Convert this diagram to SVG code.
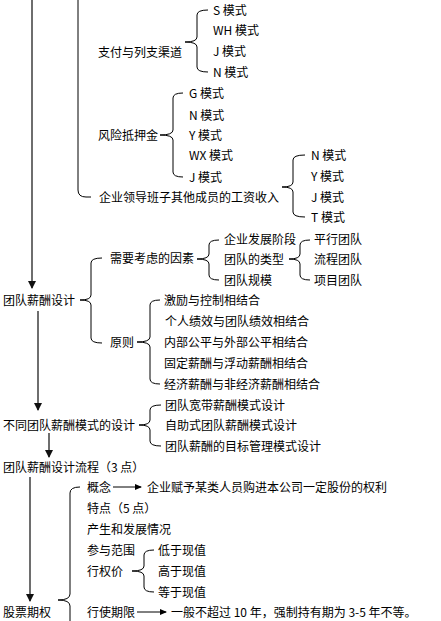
<svg xmlns="http://www.w3.org/2000/svg" width="441" height="621" viewBox="0 0 441 621">
<defs>
<marker id="ah" markerWidth="8" markerHeight="8" refX="7" refY="4" orient="auto" markerUnits="userSpaceOnUse"><path d="M0,0 L8,4 L0,8 Z" fill="#111"/></marker>
<marker id="ahs" markerWidth="7" markerHeight="6" refX="6" refY="3" orient="auto" markerUnits="userSpaceOnUse"><path d="M0,0 L7,3 L0,6 Z" fill="#000"/></marker>
</defs>
<style>
text{font-family:"Noto Sans CJK SC","Noto Sans",sans-serif;font-size:12px;fill:#000}
.b{fill:none;stroke:#000;stroke-width:1}
.g{fill:none;stroke:#6e6e6e;stroke-width:2}
.a{fill:none;stroke:#000;stroke-width:1}
</style>
<rect width="441" height="621" fill="#fff"/>
<g id="connectors">
<path class="g" d="M32,0 L32,288" marker-end="url(#ah)"/>
<path class="g" d="M38,311 L38,410" marker-end="url(#ah)"/>
<path class="g" d="M49,433 L49,457" marker-end="url(#ah)"/>
<path class="g" d="M30,477 L30,601" marker-end="url(#ah)"/>
<path class="b" d="M78,0 L78,190 Q78,197 86,197 L91,197"/>
<path class="b" d="M208,10 Q197,10 197,15 L197,37 Q197,42 185,42 Q197,42 197,47 L197,67 Q197,72 208,72"/>
<path class="b" d="M183,93 Q173,93 173,98 L173,130 Q173,135 160,135 Q173,135 173,140 L173,172 Q173,177 183,177"/>
<path class="b" d="M305,155 Q293,155 293,160 L293,182 Q293,187 282,187 Q293,187 293,192 L293,212 Q293,217 305,217"/>
<path class="b" d="M102,258 Q91,258 91,263 L91,295 Q91,300 80,300 Q91,300 91,305 L91,338 Q91,343 102,343"/>
<path class="b" d="M219,240 Q209,240 209,245 L209,254 Q209,259 197,259 Q209,259 209,264 L209,275 Q209,280 219,280"/>
<path class="b" d="M310,240 Q300,240 300,245 L300,254 Q300,259 289,259 Q300,259 300,264 L300,275 Q300,280 310,280"/>
<path class="b" d="M160,300 Q150,300 150,305 L150,337 Q150,342 137,342 Q150,342 150,347 L150,379 Q150,384 160,384"/>
<path class="b" d="M161,405 Q150,405 150,410 L150,420 Q150,425 139,425 Q150,425 150,430 L150,441 Q150,446 161,446"/>
<path class="b" d="M80,487 Q70,487 70,493 L70,594 Q70,600 58,600 Q70,600 70,606 L70,621"/>
<path class="b" d="M154,550 Q144,550 144,555 L144,566 Q144,571 132,571 Q144,571 144,576 L144,587 Q144,592 154,592"/>
<path class="a" d="M113,487 L141,487" marker-end="url(#ahs)"/>
<path class="a" d="M137,612 L166,612" marker-end="url(#ahs)"/>
</g>
<g id="n-zhifu"><text x="98" y="56.5">支付与列支渠道</text></g>
<g id="n-zhifu-items">
<text x="213" y="14.5">S 模式</text>
<text x="213" y="34.5">WH 模式</text>
<text x="213" y="55.5">J 模式</text>
<text x="213" y="76.5">N 模式</text>
</g>
<g id="n-fengxian"><text x="98" y="139.5">风险抵押金</text></g>
<g id="n-fengxian-items">
<text x="189" y="97.5">G 模式</text>
<text x="189" y="119.5">N 模式</text>
<text x="189" y="139.5">Y 模式</text>
<text x="189" y="159.5">WX 模式</text>
<text x="189" y="181.5">J 模式</text>
</g>
<g id="n-qiye"><text x="99" y="201.5">企业领导班子其他成员的工资收入</text></g>
<g id="n-qiye-items">
<text x="311" y="159.5">N 模式</text>
<text x="311" y="180.5">Y 模式</text>
<text x="311" y="201.5">J 模式</text>
<text x="311" y="221.5">T 模式</text>
</g>
<g id="n-tuandui"><text x="3" y="304.5">团队薪酬设计</text></g>
<g id="n-yinsu"><text x="110" y="262.5">需要考虑的因素</text></g>
<g id="n-yinsu-items">
<text x="224" y="243.5">企业发展阶段</text>
<text x="224" y="263.5">团队的类型</text>
<text x="224" y="284.5">团队规模</text>
</g>
<g id="n-leixing-items">
<text x="314" y="243.5">平行团队</text>
<text x="314" y="263.5">流程团队</text>
<text x="314" y="284.5">项目团队</text>
</g>
<g id="n-yuanze"><text x="110" y="346.5">原则</text></g>
<g id="n-yuanze-items">
<text x="164" y="304.5">激励与控制相结合</text>
<text x="165" y="325.5">个人绩效与团队绩效相结合</text>
<text x="164" y="346.5">内部公平与外部公平相结合</text>
<text x="164" y="367.5">固定薪酬与浮动薪酬相结合</text>
<text x="164" y="388.5">经济薪酬与非经济薪酬相结合</text>
</g>
<g id="n-butong"><text x="3" y="429.5">不同团队薪酬模式的设计</text></g>
<g id="n-butong-items">
<text x="165" y="409.5">团队宽带薪酬模式设计</text>
<text x="165" y="429.5">自助式团队薪酬模式设计</text>
<text x="165" y="450.5">团队薪酬的目标管理模式设计</text>
</g>
<g id="n-liucheng"><text x="3" y="471.5">团队薪酬设计流程（3 点）</text></g>
<g id="n-gupiao"><text x="3" y="616.5">股票期权</text></g>
<g id="n-gupiao-items">
<text x="87" y="491.5">概念</text>
<text x="147" y="491.5">企业赋予某类人员购进本公司一定股份的权利</text>
<text x="87" y="512.5">特点（5 点）</text>
<text x="87" y="533.5">产生和发展情况</text>
<text x="87" y="554.5">参与范围</text>
<text x="87" y="575.5">行权价</text>
<text x="87" y="616.5">行使期限</text>
<text x="171" y="616.5">一般不超过 10 年，强制持有期为 3-5 年不等。</text>
</g>
<g id="n-xingquan-items">
<text x="158" y="554.5">低于现值</text>
<text x="158" y="575.5">高于现值</text>
<text x="158" y="596.5">等于现值</text>
</g>
</svg>
